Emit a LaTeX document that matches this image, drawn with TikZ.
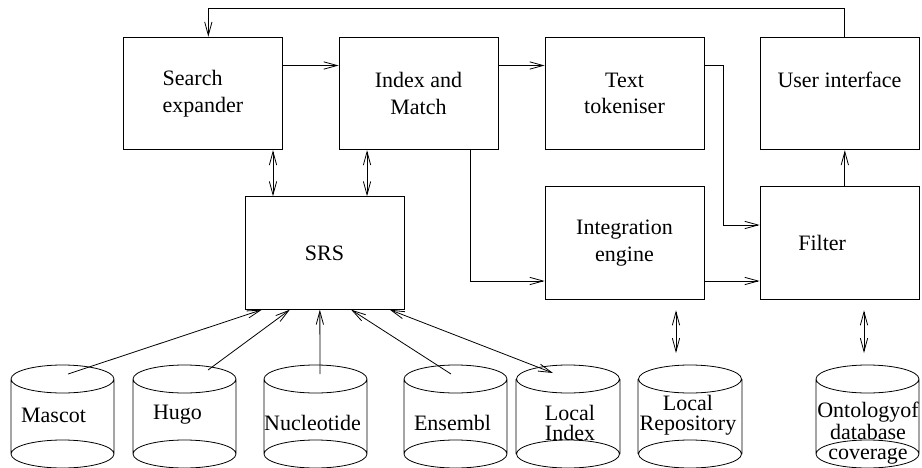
\documentclass[tikz,border=0pt]{standalone}
\usepackage{fontspec}
\setmainfont{Liberation Serif}
\usetikzlibrary{arrows.meta}
\tikzset{every picture/.style={line width=0.6pt}}
\tikzset{
  blk/.style={draw, minimum width=119.25pt, minimum height=84.5pt, inner sep=0pt, align=center},
  dbtext/.style={inner sep=0pt, align=center, font=\rmfamily\fontsize{16.5}{15}\selectfont},
  rim/.style={x radius=38.6pt, y radius=10.5pt}
}

\begin{document}
\begin{tikzpicture}[x=0.75pt,y=0.75pt,yscale=-1,xscale=1,
  font=\rmfamily\fontsize{16.5}{20}\selectfont,
  >={Straight Barb[length=10pt,width=5.5pt]}]
\useasboundingbox (0,0) rectangle (922,468);

% Boxes
\node [blk, align=left] (search) at (203,93.5) {Search\\expander};
\node [blk] (index) at (418.5,93.5) {Index and\\Match};
\node [blk] (tok) at (624.5,93.5) {Text\\tokeniser};
\node [blk] (ui) at (839.5,93.5) {User interface\\~};
\node [blk] (srs) at (324.5,253) {SRS};
\node [blk] (integ) at (624.5,243) {Integration\\engine};
\node [blk] (filter) at (839.5,243) {Filter\hspace*{26pt}};

%Shape: Can (Mascot)
\draw (11,379) -- (11,454) (114,379) -- (114,454) (62.5,379) ellipse [rim] (62.5,454) ellipse [rim];
%Shape: Can (Hugo)
\draw (133,379) -- (133,454) (236,379) -- (236,454) (184.5,379) ellipse [rim] (184.5,454) ellipse [rim];
%Shape: Can (Nucleotide)
\draw (264,379) -- (264,454) (367,379) -- (367,454) (315.5,379) ellipse [rim] (315.5,454) ellipse [rim];
%Shape: Can (Ensembl)
\draw (404,379) -- (404,454) (507,379) -- (507,454) (455.5,379) ellipse [rim] (455.5,454) ellipse [rim];
%Shape: Can (Local Index)
\draw (516,379) -- (516,454) (620,379) -- (620,454) (568,379) ellipse [rim] (568,454) ellipse [rim];
%Shape: Can (Local Repository)
\draw (638,379) -- (638,454) (742,379) -- (742,454) (690,379) ellipse [rim] (690,454) ellipse [rim];
%Shape: Can (Ontology)
\draw (816,379) -- (816,454) (919,379) -- (919,454) (867.5,379) ellipse [rim] (867.5,454) ellipse [rim];

% Can labels
\node [dbtext] (mascot) at (53.5,415) {Mascot};
\node [dbtext] (hugo) at (177.5,415) {Hugo};
\node [dbtext] (nucleo) at (312.5,423) {Nucleotide};
\node [dbtext] (ensembl) at (452.5,423) {Ensembl};
\node [dbtext] (localidx) at (570,423) {Local\\Index};
\node [dbtext] (localrepo) at (688,415) {Local\\Repository};
\node [dbtext] (onto) at (868,433) {Ontologyof\\database\\coverage};

% Connector ends inside the cans
\coordinate (mascot-in) at (68,374);
\coordinate (hugo-in) at (208,370);
\coordinate (nucleo-in) at (320,374);
\coordinate (ensembl-in) at (451,374);
\coordinate (localidx-in) at (553,373);
\coordinate (localrepo-in) at (676,365);
\coordinate (onto-in) at (864,365);

% Top row
\draw [->] ([xshift=4pt]ui.north) -- ++(0,-28) -| ([xshift=4pt]search.north);
\draw [->] ([yshift=-21pt]search.east) -- ([yshift=-21pt]index.west);
\draw [->] ([yshift=-21pt]index.east) -- ([yshift=-21pt]tok.west);
\draw [->] ([yshift=-21pt]tok.east) -- ++(19,0) |- ([yshift=-13.5pt]filter.west);
\draw [->] ([xshift=38.6pt]index.south) |- ([yshift=28.5pt]integ.west);
\draw [->] ([yshift=28.5pt]integ.east) -- ([yshift=28.5pt]filter.west);
\draw [->] ([xshift=4pt]filter.north) -- ([xshift=4pt]ui.south);

% SRS links
\draw [<->] ([xshift=52.5pt]search.south) -- ([xshift=52.5pt]search.south |- srs.north);
\draw [<->] ([xshift=-38.6pt]index.south) -- ([xshift=-38.6pt]index.south |- srs.north);
\draw [->] (mascot-in) -- ([xshift=-47pt]srs.south);
\draw [->] (hugo-in) -- ([xshift=-26pt]srs.south);
\draw [->] (nucleo-in) -- ([xshift=-3.5pt]srs.south);
\draw [->] (ensembl-in) -- ([xshift=20pt]srs.south);
\draw [<->] ([xshift=49pt]srs.south) -- (localidx-in);

% Store links
\draw [<->, shorten <=8pt, shorten >=9pt] (integ.south -| localrepo-in) -- (localrepo-in);
\draw [<->, shorten <=8pt, shorten >=9pt] (filter.south -| onto-in) -- (onto-in);

\end{tikzpicture}
\end{document}
